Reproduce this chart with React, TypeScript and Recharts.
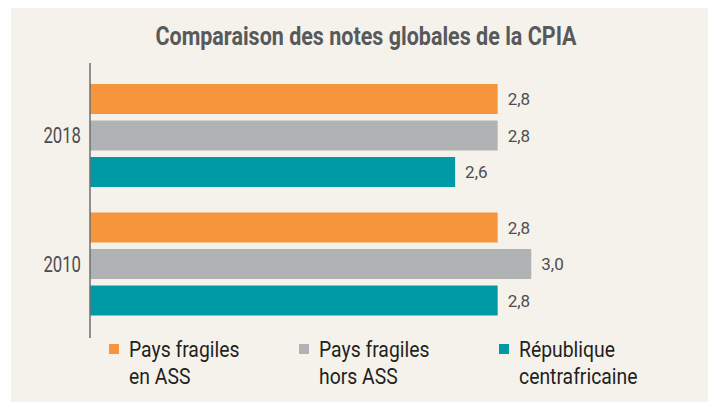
import { Bar, BarChart, LabelList, Legend, XAxis, YAxis } from "recharts";

const years = ["2018", "2010"];
const fragilesAss = [2.82, 2.82];
const fragilesHorsAss = [2.82, 2.97];
const rca = [2.63, 2.82];

const seriesKeys = ["fragilesAss", "fragilesHorsAss", "rca"];
const seriesNames = [
  ["Pays fragiles", "en ASS"],
  ["Pays fragiles", "hors ASS"],
  ["République", "centrafricaine"],
];
const seriesColors = ["#f7953d", "#b1b2b4", "#009aa6"];

const data = years.map((year, i) => ({
  year,
  fragilesAss: fragilesAss[i],
  fragilesHorsAss: fragilesHorsAss[i],
  rca: rca[i],
}));

const font = "Roboto, sans-serif";
const legendLefts = [109, 299, 499];

const fmt = (v: unknown) => Number(v).toFixed(1).replace(".", ",");

// narrow text: no condensed face installed, so squeeze Roboto horizontally
function YearTick({ x, y, payload }: any) {
  return (
    <text
      transform={`translate(${x},${y}) scale(0.76,1)`}
      textAnchor="end"
      dy="0.36em"
      fill="#4d4d4f"
      fontSize={22}
      fontFamily={font}
    >
      {payload.value}
    </text>
  );
}

function LegendBlock() {
  return (
    <div style={{ position: "relative", width: 708, height: 60 }}>
      {seriesKeys.map((k, i) => (
        <div key={k} style={{ position: "absolute", left: legendLefts[i], top: 0, display: "flex" }}>
          <div style={{ width: 10, height: 10, marginTop: 8, background: seriesColors[i] }} />
          <div
            style={{
              marginLeft: 10,
              fontFamily: font,
              fontSize: 22,
              lineHeight: "27px",
              color: "#231f20",
              textAlign: "left",
              whiteSpace: "nowrap",
              transform: "scaleX(0.88)",
              transformOrigin: "left top",
            }}
          >
            {seriesNames[i][0]}
            <br />
            {seriesNames[i][1]}
          </div>
        </div>
      ))}
    </div>
  );
}

export default function App() {
  return (
    <div style={{ position: "absolute", left: 0, top: 0, width: 708, height: 402, background: "#ffffff" }}>
      <div style={{ position: "absolute", left: 11, top: 8, width: 697, height: 394, background: "#f5f2ec" }} />
      <div
        style={{
          position: "absolute",
          left: 66,
          top: 22,
          width: 600,
          textAlign: "center",
          fontFamily: font,
          fontWeight: "bold",
          fontSize: 25,
          lineHeight: "30px",
          color: "#58595b",
          whiteSpace: "nowrap",
          transform: "scaleX(0.86)",
        }}
      >
        Comparaison des notes globales de la CPIA
      </div>
      <div style={{ position: "absolute", left: 0, top: 0 }}>
        <BarChart
          width={708}
          height={402}
          data={data}
          layout="vertical"
          margin={{ top: 63, right: 58, left: 0, bottom: 64 }}
          barSize={30}
          barGap={6.5}
        >
          <XAxis type="number" domain={[1, 3.5]} hide />
          <YAxis
            type="category"
            dataKey="year"
            width={90}
            padding={{ top: 8, bottom: 10 }}
            axisLine={{ stroke: "#6d6e71", strokeWidth: 1.5 }}
            tickLine={false}
            tickSize={0}
            tickMargin={9}
            tick={<YearTick />}
          />
          <Legend
            layout="horizontal"
            verticalAlign="middle"
            align="center"
            wrapperStyle={{ top: 336, left: 0, width: 708 }}
            content={() => <LegendBlock />}
          />
          {seriesKeys.map((k, i) => (
            <Bar key={k} dataKey={k} fill={seriesColors[i]} isAnimationActive={false}>
              <LabelList
                dataKey={k}
                position="right"
                offset={10}
                formatter={fmt}
                fill="#4d4d4f"
                fontSize={17}
                fontFamily={font}
              />
            </Bar>
          ))}
        </BarChart>
      </div>
    </div>
  );
}
